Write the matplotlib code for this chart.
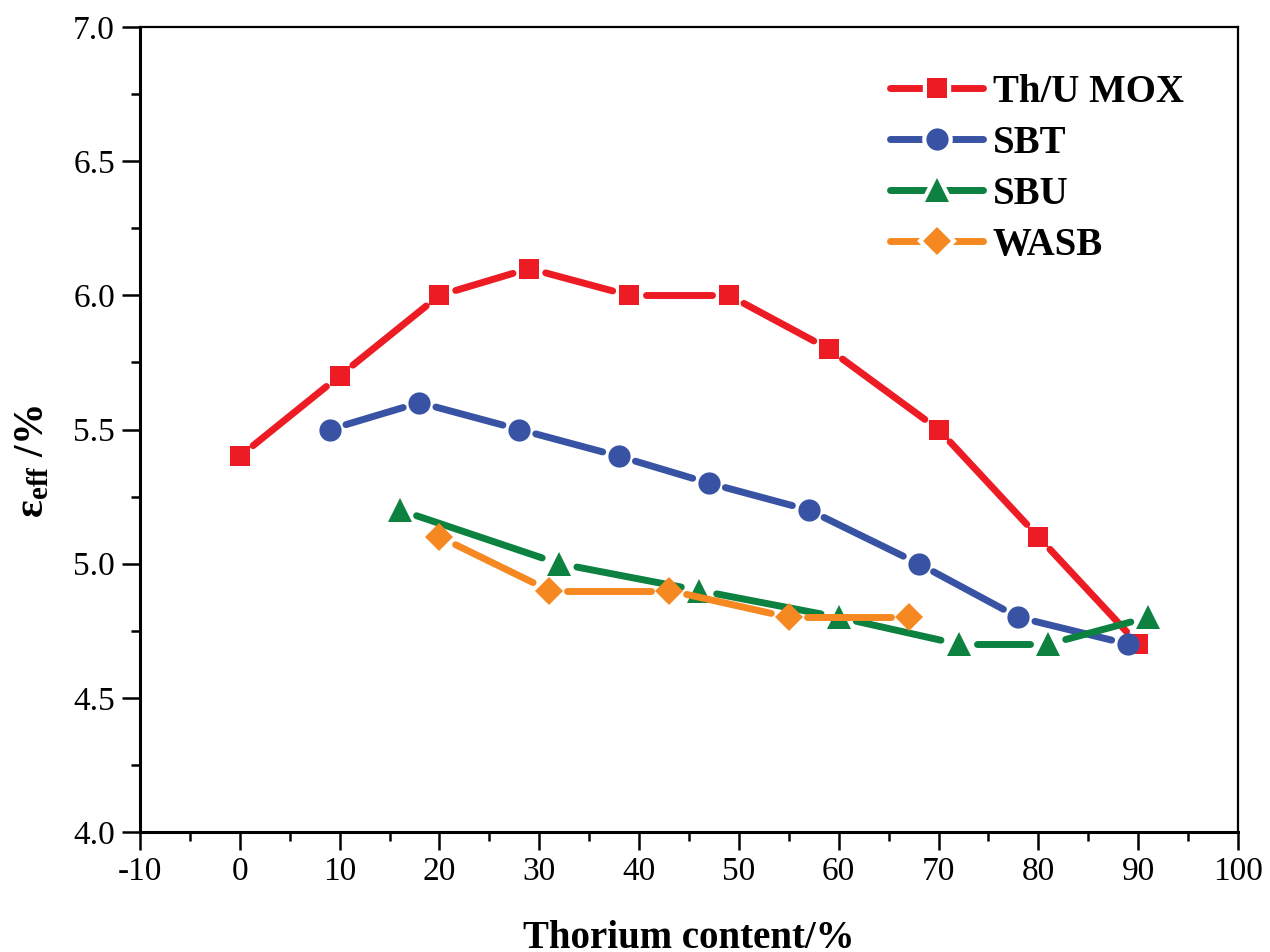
import numpy as np
import matplotlib
matplotlib.use("Agg")
import matplotlib.pyplot as plt
from matplotlib.collections import LineCollection
from matplotlib.lines import Line2D
from matplotlib.legend_handler import HandlerTuple
from matplotlib.ticker import MultipleLocator, FormatStrFormatter

# ---- data ----
mox_x = [0, 10, 20, 29, 39, 49, 59, 70, 80, 90]
mox_y = [5.4, 5.7, 6.0, 6.1, 6.0, 6.0, 5.8, 5.5, 5.1, 4.7]
sbt_x = [9, 18, 28, 38, 47, 57, 68, 78, 89]
sbt_y = [5.5, 5.6, 5.5, 5.4, 5.3, 5.2, 5.0, 4.8, 4.7]
sbu_x = [16, 32, 46, 60, 72, 81, 91]
sbu_y = [5.2, 5.0, 4.9, 4.8, 4.7, 4.7, 4.8]
wasb_x = [20, 31, 43, 55, 67]
wasb_y = [5.1, 4.9, 4.9, 4.8, 4.8]
labels = ["Th/U MOX", "SBT", "SBU", "WASB"]

plt.rcParams['font.family'] = ['Liberation Serif', 'DejaVu Serif']
plt.rcParams['axes.unicode_minus'] = False
plt.rcParams['mathtext.fontset'] = 'custom'
plt.rcParams['mathtext.rm'] = 'Liberation Serif'
plt.rcParams['mathtext.bf'] = 'Liberation Serif:bold'
plt.rcParams['mathtext.it'] = 'Liberation Serif:italic'

fig = plt.figure(figsize=(12.7, 9.52), dpi=100)
ax = fig.add_axes([140/1270, 1-832/952, (1238-140)/1270, (832-27)/952])
ax.set_xlim(-10, 100)
ax.set_ylim(4.0, 7.0)

series = [
    (mox_x, mox_y, '#ED1C24', 's', 15, 17),
    (sbt_x, sbt_y, '#3953A4', 'o', 16, 17),
    (sbu_x, sbu_y, '#0C8140', '^', 17, 18),
    (wasb_x, wasb_y, '#F68822', 'D', 14, 18),
]
lw = 5

handles = []
for i, (x, y, c, m, ms, gap) in enumerate(series):
    pts = ax.transData.transform(np.column_stack([x, y]))
    inv = ax.transData.inverted()
    segs = []
    for p0, p1 in zip(pts[:-1], pts[1:]):
        d = p1 - p0
        L = np.hypot(*d)
        u = d / L
        segs.append(inv.transform(np.array([p0 + u * gap, p1 - u * gap])))
    lc = LineCollection(segs, colors=c, linewidths=lw, capstyle='round', zorder=2 + i)
    ax.add_collection(lc)
    ax.plot(x, y, linestyle='none', marker=m, markersize=ms, color=c,
            markeredgewidth=0, zorder=2.5 + i, clip_on=False)
    h_line = Line2D([], [], color=c, lw=lw, solid_capstyle='round')
    h_halo = Line2D([], [], linestyle='none', marker=m, markersize=ms,
                    markerfacecolor='white', markeredgecolor='white', markeredgewidth=6)
    h_mark = Line2D([], [], linestyle='none', marker=m, markersize=ms, color=c,
                    markeredgewidth=0)
    handles.append((h_line, h_halo, h_mark))

ax.legend(handles, labels, handler_map={tuple: HandlerTuple(ndivide=1)},
          loc='upper left', bbox_to_anchor=(0.683, 0.942), frameon=False,
          borderpad=0, borderaxespad=0, handlelength=2.4, handletextpad=0.25,
          labelspacing=0.36, prop={'family': 'Liberation Serif', 'weight': 'bold', 'size': 28})

ax.xaxis.set_major_locator(MultipleLocator(10))
ax.xaxis.set_minor_locator(MultipleLocator(5))
ax.yaxis.set_major_locator(MultipleLocator(0.5))
ax.yaxis.set_minor_locator(MultipleLocator(0.25))
ax.yaxis.set_major_formatter(FormatStrFormatter('%.1f'))
ax.xaxis.set_major_formatter(FormatStrFormatter('%d'))
ax.tick_params(which='major', direction='out', length=13, width=1.8, labelsize=24, pad=5)
ax.tick_params(which='minor', direction='out', length=6.5, width=1.8)
ax.tick_params(top=False, right=False, which='both')

for s in ['left', 'bottom']:
    ax.spines[s].set_linewidth(2.2)
for s in ['top', 'right']:
    ax.spines[s].set_linewidth(1.6)

ax.set_xlabel('Thorium content/%', fontsize=28, fontweight='bold')
ax.xaxis.set_label_coords(0.5, (832-920)/805)
ax.xaxis.label.set_va('top')
ax.set_ylabel(r'ε$_\mathbf{eff}$ /%', fontsize=30, fontweight='bold')
ax.yaxis.set_label_coords((33-140)/1098, 0.46)
ax.yaxis.label.set_va('center')

fig.savefig('out.png', dpi=100)
